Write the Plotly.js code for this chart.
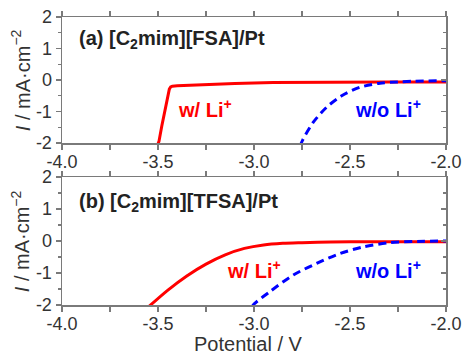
<!DOCTYPE html>
<html>
<head>
<meta charset="utf-8">
<script src="https://cdn.plot.ly/plotly-3.0.1.min.js"></script>
<style>html,body{margin:0;padding:0;background:#fff}#chart{width:463px;height:355px}</style>
</head>
<body>
<div id="chart"></div>
<script>
// Panel (a) [C2mim][FSA]/Pt
const aWithLiV = [-3.505, -3.495, -3.48, -3.464, -3.455, -3.447, -3.441, -3.434, -3.425, -3.4, -3.3, -3.1, -2.9, -2.6, -2.3, -2.0];
const aWithLiI = [-2.1, -1.95, -1.45, -0.97, -0.66, -0.42, -0.29, -0.22, -0.195, -0.18, -0.15, -0.11, -0.08, -0.065, -0.06, -0.06];
const aNoLiV = [-2.76, -2.746, -2.691, -2.621, -2.543, -2.448, -2.344, -2.25, -2.17, -2.0];
const aNoLiI = [-2.1, -1.9, -1.34, -0.86, -0.5, -0.23, -0.1, -0.06, -0.04, -0.02];
// Panel (b) [C2mim][TFSA]/Pt
const bWithLiV = [-3.55, -3.45, -3.35, -3.25, -3.15, -3.05, -2.95, -2.85, -2.75, -2.6, -2.4, -2.2, -2.0];
const bWithLiI = [-2.06, -1.54, -1.09, -0.72, -0.43, -0.23, -0.12, -0.07, -0.05, -0.03, -0.02, -0.02, -0.02];
const bNoLiV = [-3.01, -3.0, -2.917, -2.795, -2.674, -2.552, -2.43, -2.29, -2.15, -2.0];
const bNoLiI = [-2.05, -1.97, -1.58, -1.06, -0.70, -0.39, -0.18, -0.05, -0.01, 0.0];

const xTickVals = [-4.0, -3.5, -3.0, -2.5, -2.0];
const xTickText = ["-4.0", "-3.5", "-3.0", "-2.5", "-2.0"];
const yTickVals = [-2, -1, 0, 1, 2];
const yTickText = ["-2", "-1", "0", "1", "2"];

const RED = "#ff0000", BLUE = "#0000ff", AX = "#7a7a7a", TXT = "#333333";
const FONT = "Liberation Sans, Arial, sans-serif";

const traces = [
  {x: aWithLiV, y: aWithLiI, xaxis: "x", yaxis: "y", mode: "lines", line: {color: RED, width: 3}},
  {x: aNoLiV, y: aNoLiI, xaxis: "x", yaxis: "y", mode: "lines", line: {color: BLUE, width: 3, dash: "8px,5px", shape: "spline", smoothing: 0.8}},
  {x: bWithLiV, y: bWithLiI, xaxis: "x2", yaxis: "y2", mode: "lines", line: {color: RED, width: 3, shape: "spline", smoothing: 0.8}},
  {x: bNoLiV, y: bNoLiI, xaxis: "x2", yaxis: "y2", mode: "lines", line: {color: BLUE, width: 3, dash: "8px,5px", shape: "spline", smoothing: 0.8}},
  {x: [], y: [], xaxis: "x", yaxis: "y3", mode: "lines"},
  {x: [], y: [], xaxis: "x2", yaxis: "y4", mode: "lines"}
];

function xAx(anchor) {
  return {
    anchor: anchor, domain: [0, 1], range: [-4, -2], tickmode: "array", tickvals: xTickVals, ticktext: xTickText,
    ticks: "outside", ticklen: 5, tickwidth: 1.3, tickcolor: AX, showline: true, linecolor: AX, linewidth: 1.5,
    mirror: "allticks", showgrid: false, zeroline: false, tickfont: {family: FONT, size: 18, color: TXT}, ticklabelstandoff: -3,
    minor: {tickmode: "linear", tick0: -4, dtick: 0.25, ticks: "outside", ticklen: 3, tickcolor: AX, tickwidth: 1.3}
  };
}
function yAx(anchor, domain) {
  return {
    anchor: anchor, domain: domain, range: [-2, 2], tickmode: "array", tickvals: yTickVals, ticktext: yTickText,
    ticks: "outside", ticklen: 5, tickwidth: 1.3, tickcolor: AX, showline: true, linecolor: AX, linewidth: 1.5,
    mirror: true, showgrid: false, zeroline: false, tickfont: {family: FONT, size: 18, color: TXT}, ticklabelstandoff: 0,
    minor: {tickmode: "linear", tick0: -2, dtick: 0.5, ticks: "outside", ticklen: 3, tickcolor: AX, tickwidth: 1.3}
  };
}
function yRight(over, anchor, domain) {
  return {
    overlaying: over, anchor: anchor, side: "right", domain: domain, range: [-2, 2], tickmode: "linear", tick0: -2, dtick: 1,
    ticks: "inside", ticklen: 5, tickwidth: 1.3, tickcolor: AX, showticklabels: false, showline: false, showgrid: false, zeroline: false,
    minor: {tickmode: "linear", tick0: -2, dtick: 0.5, ticks: "inside", ticklen: 3, tickcolor: AX, tickwidth: 1.3}
  };
}

const topDom = [0.5625, 1], botDom = [0, 0.444];
const ytitle = "<i>I</i> / mA·cm<sup>−2</sup>";

const annotations = [
  {xref: "x", yref: "y", x: -3.92, y: 1.3, xanchor: "left", yanchor: "middle", showarrow: false,
   text: "<b>(a) [C<sub>2</sub>mim][FSA]/Pt</b>", font: {family: FONT, size: 20, color: "#222"}},
  {xref: "x", yref: "y", x: -3.255, y: -0.9, showarrow: false, text: "<b>w/ Li<sup>+</sup></b>", font: {family: FONT, size: 20, color: RED}},
  {xref: "x", yref: "y", x: -2.30, y: -0.9, showarrow: false, text: "<b>w/o Li<sup>+</sup></b>", font: {family: FONT, size: 20, color: BLUE}},
  {xref: "x2", yref: "y2", x: -3.92, y: 1.22, xanchor: "left", yanchor: "middle", showarrow: false,
   text: "<b>(b) [C<sub>2</sub>mim][TFSA]/Pt</b>", font: {family: FONT, size: 20, color: "#222"}},
  {xref: "x2", yref: "y2", x: -3.0, y: -0.9, showarrow: false, text: "<b>w/ Li<sup>+</sup></b>", font: {family: FONT, size: 20, color: RED}},
  {xref: "x2", yref: "y2", x: -2.30, y: -0.9, showarrow: false, text: "<b>w/o Li<sup>+</sup></b>", font: {family: FONT, size: 20, color: BLUE}},
  {xref: "paper", yref: "paper", x: -0.109, y: (topDom[0] + topDom[1]) / 2, xanchor: "center", yanchor: "middle", textangle: -90, showarrow: false,
   text: ytitle, font: {family: FONT, size: 20, color: TXT}},
  {xref: "paper", yref: "paper", x: -0.109, y: (botDom[0] + botDom[1]) / 2, xanchor: "center", yanchor: "middle", textangle: -90, showarrow: false,
   text: ytitle, font: {family: FONT, size: 20, color: TXT}},
  {xref: "paper", yref: "paper", x: 0.485, y: -0.135, xanchor: "center", yanchor: "middle", showarrow: false,
   text: "Potential / V", font: {family: FONT, size: 20, color: TXT}}
];

const layout = {
  width: 463, height: 355, margin: {l: 62, r: 17, t: 17, b: 50},
  paper_bgcolor: "#ffffff", plot_bgcolor: "#ffffff", showlegend: false,
  xaxis: xAx("y"), yaxis: yAx("x", topDom),
  xaxis2: xAx("y2"), yaxis2: yAx("x2", botDom),
  yaxis3: yRight("y", "x", topDom), yaxis4: yRight("y2", "x2", botDom),
  annotations: annotations
};

Plotly.newPlot("chart", traces, layout, {displayModeBar: false, staticPlot: true});
</script>
</body>
</html>
